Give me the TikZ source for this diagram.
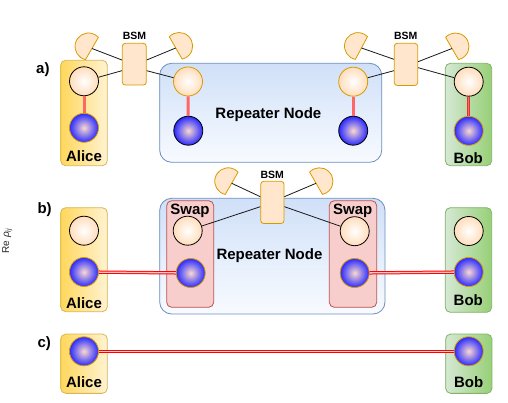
\documentclass[tikz,border=0pt]{standalone}
\usepackage{fontspec}
\setmainfont{Liberation Sans}
\definecolor{alL}{HTML}{FFD75C}
\definecolor{alR}{HTML}{FFF3D2}
\definecolor{alB}{HTML}{D6B656}
\definecolor{bbL}{HTML}{D5E8D4}
\definecolor{bbR}{HTML}{97D077}
\definecolor{bbB}{HTML}{82B366}
\definecolor{rpT}{HTML}{D0E0F8}
\definecolor{rpBt}{HTML}{F8FBFF}
\definecolor{rpB}{HTML}{6C8EBF}
\definecolor{swF}{HTML}{F8CECC}
\definecolor{swB}{HTML}{B85450}
\definecolor{peach}{HTML}{FFE6CC}
\definecolor{peachD}{HTML}{FFDDBB}
\definecolor{orB}{HTML}{D79B00}
\definecolor{ballB}{HTML}{2A2AFF}
\definecolor{ballC}{HTML}{FAD9D0}
\definecolor{redL}{HTML}{FF6666}
\definecolor{redM}{HTML}{E83030}
\definecolor{entIn}{HTML}{FFC8C8}
\newcommand\detshape[2]{\draw[det, shift={(#1)}] (#2:4) ++(#2-107:13.5) arc[start angle=#2-107, end angle=#2+107, radius=13.5] -- cycle;}
\begin{document}
\begin{tikzpicture}[x=1pt,y=-1pt,
  box/.style={rectangle, rounded corners=5, draw, line width=0.8, inner sep=0},
  alicebox/.style={box, draw=alB, left color=alL, right color=alR},
  bobbox/.style={box, draw=bbB, left color=bbL, right color=bbR},
  repbox/.style={box, rounded corners=12, draw=rpB, top color=rpT, bottom color=rpBt},
  swapbox/.style={box, draw=swB, fill=swF},
  bsmbox/.style={box, rounded corners=3, draw=orB, fill=peach},
  qb/.style={circle, minimum size=29, inner sep=0, line width=0.8},
  pq/.style={qb, inner color=white, outer color=peachD},
  bq/.style={qb, inner color=ballC, outer color=ballB},
  blk/.style={draw=black},
  orb/.style={draw=orB},
  lbl/.style={font=\bfseries\fontsize{15}{18}\selectfont, inner sep=0, anchor=base},
  bsmlbl/.style={font=\bfseries\fontsize{10.5}{12}\selectfont, inner sep=0, anchor=base},
  link/.style={draw=redL, line width=3},
  linkd/.style={draw=redM, line width=0.9, double=redL, double distance=1.2},
  ent/.style={draw=red, line width=1, double=entIn, double distance=1.3},
  wire/.style={draw=black!90, line width=0.8},
  det/.style={draw=orB, fill=peach, line width=0.8, line join=round}]
\useasboundingbox (0,0) rectangle (508,403);

% ---------------- a) ----------------
\node[alicebox, minimum width=46.6, minimum height=105.4] (aliceA) at (84,113) {};
\node[repbox, minimum width=222, minimum height=99] (repA) at (270.7,112.8) {};
\node[bobbox, minimum width=46.4, minimum height=102.4] (bobA) at (468.5,114.5) {};
\node[bsmbox, minimum width=24, minimum height=41.7] (bsm1) at (134.3,64.2) {};
\node[bsmbox, minimum width=23.4, minimum height=42.2] (bsm2) at (406,64.4) {};
\node[bsmlbl] (bsm1t) at (134.5,40) {BSM};
\node[bsmlbl] (bsm2t) at (405.8,40) {BSM};
\node[lbl, anchor=base west] (la) at (36,74) {a)};
\node[lbl] (repAt) at (268.4,118.3) {Repeater Node};
\node[lbl] (aliceAt) at (84,161.7) {Alice};
\node[lbl] (bobAt) at (468.3,164) {Bob};

\node[pq, blk] (aAU) at (84,81.3) {};
\node[bq, orb] (aAL) at (84,127.8) {};
\node[pq, orb] (aRLU) at (188,81.5) {};
\node[bq, blk] (aRLL) at (188.3,130.7) {};
\node[pq, orb] (aRRU) at (353.2,81.7) {};
\node[bq, blk] (aRRL) at (353.2,130.7) {};
\node[pq, blk] (aBU) at (468.7,81.7) {};
\node[bq, orb] (aBL) at (468.7,130.8) {};

\draw[link] (aAU) -- (aAL);
\draw[link] (aRLU) -- (aRLL);
\draw[link] (aRRU) -- (aRRL);
\draw[linkd] (aBU) -- (aBL);

\coordinate (d1) at (92,48.5);
\coordinate (d2) at (175.7,48);
\coordinate (d3) at (361.5,48);
\coordinate (d4) at (452,48.5);
\detshape{d1}{210}
\detshape{d2}{330}
\detshape{d3}{208}
\detshape{d4}{330}
\draw[wire] (d1) -- ([yshift=4.2]bsm1.west);
\draw[wire] (d2) -- ([yshift=4.2]bsm1.east);
\draw[wire] ([yshift=-6.5]bsm1.west) -- (aAU);
\draw[wire] ([yshift=-6.5]bsm1.east) -- (aRLU);
\draw[wire] (d3) -- ([yshift=5.1]bsm2.west);
\draw[wire] (d4) -- ([yshift=2.7]bsm2.east);
\draw[wire] ([yshift=-6.3]bsm2.west) -- (aRRU);
\draw[wire] ([yshift=-3.3]bsm2.east) -- (aBU);

% ---------------- b) ----------------
\node[alicebox, minimum width=46.6, minimum height=104] (aliceB) at (84,259.7) {};
\node[repbox, minimum width=225.3, minimum height=115.7] (repB) at (272.35,256.15) {};
\node[swapbox, minimum width=47, minimum height=106.6] (swapL) at (190.2,254) {};
\node[swapbox, minimum width=47.4, minimum height=106.6] (swapR) at (353,254) {};
\node[bobbox, minimum width=46.4, minimum height=104.6] (bobB) at (468.5,260) {};
\node[bsmbox, minimum width=23.3, minimum height=42.2] (bsm3) at (272.35,202.4) {};
\node[bsmlbl] (bsm3t) at (272.3,178.3) {BSM};
\node[lbl, anchor=base west] (lb) at (37.3,213.3) {b)};
\node[lbl] (repBt) at (269.5,259.3) {Repeater Node};
\node[lbl] (swapLt) at (190,214.3) {Swap};
\node[lbl] (swapRt) at (352.8,214.3) {Swap};
\node[lbl] (aliceBt) at (84,308.3) {Alice};
\node[lbl] (bobBt) at (468.3,305.3) {Bob};
\node[font=\fontsize{10}{11}\selectfont, text=black!85, rotate=90, inner sep=0] (re) at (7.2,241.3) {Re {\itshape ρ}\raisebox{-1.8pt}{\fontsize{7}{8}\selectfont\itshape ij}};

\node[pq, blk] (bAU) at (84,230.7) {};
\node[bq, orb] (bAL) at (84,272) {};
\node[pq, blk] (bSLU) at (187.7,230.7) {};
\node[bq, orb] (bSLL) at (190.7,273) {};
\node[pq, blk] (bSRU) at (354.7,231.2) {};
\node[bq, orb] (bSRL) at (354.7,273) {};
\node[pq, blk] (bBU) at (468.7,231) {};
\node[bq, orb] (bBL) at (468.7,272) {};

\draw[ent] (bAL) -- (bSLL);
\draw[ent] (bSRL) -- (bBL);

\coordinate (d5) at (231.7,183.3);
\coordinate (d6) at (316,183.3);
\detshape{d5}{210}
\detshape{d6}{330}
\draw[wire] (d5) -- ([yshift=5.7]bsm3.west);
\draw[wire] (d6) -- ([yshift=5.7]bsm3.east);
\draw[wire] ([yshift=-4.3]bsm3.west) -- (bSLU);
\draw[wire] ([yshift=-4.3]bsm3.east) -- (bSRU);

% ---------------- c) ----------------
\node[alicebox, minimum width=46.6, minimum height=59.3] (aliceC) at (84,363.7) {};
\node[bobbox, minimum width=46.3, minimum height=59.3] (bobC) at (468.8,363.7) {};
\node[lbl, anchor=base west] (lc) at (37.3,347.3) {c)};
\node[lbl] (aliceCt) at (84,387.3) {Alice};
\node[lbl] (bobCt) at (468.7,387.3) {Bob};
\node[bq, orb] (cA) at (84,351.3) {};
\node[bq, orb] (cB) at (468.7,351.3) {};
\draw[ent] (cA) -- (cB);
\end{tikzpicture}
\end{document}
